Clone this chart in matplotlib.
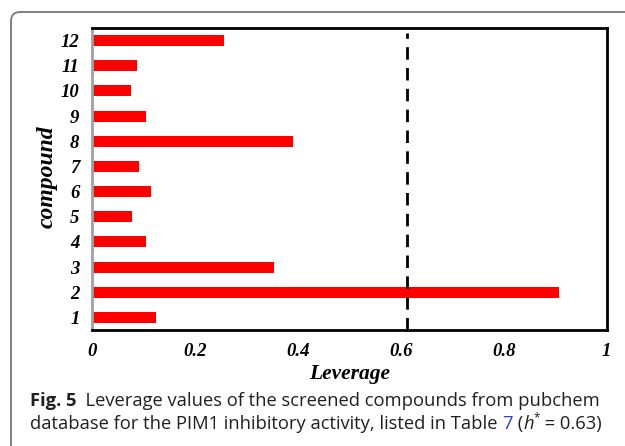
import matplotlib
matplotlib.use("Agg")
import matplotlib.pyplot as plt
from matplotlib.patches import FancyBboxPatch

compounds = ["1", "2", "3", "4", "5", "6", "7", "8", "9", "10", "11", "12"]
leverage = [0.125, 0.908, 0.354, 0.104, 0.077, 0.115, 0.092, 0.390, 0.104, 0.076, 0.088, 0.256]
h_line = 0.612
xticks = [0, 0.2, 0.4, 0.6, 0.8, 1]
xtick_labels = ["0", "0.2", "0.4", "0.6", "0.8", "1"]

W, H = 625, 446
dpi = 100
fig = plt.figure(figsize=(W / dpi, H / dpi), dpi=dpi)

# outer rounded frame
frame = FancyBboxPatch((0.11, -1.0), 8.0, 4.34 + 1.0,
                       boxstyle="round,pad=0,rounding_size=0.09",
                       transform=fig.dpi_scale_trans, fill=False,
                       edgecolor="#808080", linewidth=1.4)
fig.patches.append(frame)

ax = fig.add_axes([92 / W, 1 - 330 / H, (606.5 - 92) / W, (330 - 28) / H])
ypos = list(range(1, len(compounds) + 1))
ax.barh(ypos, leverage, height=0.44, color="#ff0000")
ax.axvline(h_line, color="black", linewidth=2.0, linestyle=(0, (4.5, 3)), ymax=0.985)
ax.set_xlim(0, 1)
ax.set_ylim(0.5, 12.5)

serif = "Liberation Serif"
tick_kw = dict(fontfamily=serif, fontweight="bold", fontstyle="italic", fontsize=13.5)
ax.set_yticks(ypos)
ax.set_yticklabels(compounds, **tick_kw)
ax.set_xticks(xticks)
ax.set_xticklabels(xtick_labels, **tick_kw)
ax.tick_params(axis="x", length=0, pad=9)
ax.tick_params(axis="y", length=0, pad=9)

for s in ["top", "right", "bottom"]:
    ax.spines[s].set_color("black")
    ax.spines[s].set_linewidth(2.0)
ax.spines["left"].set_color("#a0a0a0")
ax.spines["left"].set_linewidth(2.0)

ax.set_xlabel("Leverage", fontfamily=serif, fontweight="bold", fontstyle="italic", fontsize=15.5, labelpad=3)
fig.text(47 / W, 1 - 177 / H, "compound", rotation=90, ha="center", va="center",
         fontfamily=serif, fontweight="bold", fontstyle="italic", fontsize=17)

# caption with mixed styles
cap_font = "Open Sans"
cap_size = 13.2
cap_color = "#231f20"
fig.canvas.draw()
renderer = fig.canvas.get_renderer()


def put(x, y, s, **kw):
    t = fig.text(x / W, 1 - y / H, s, fontfamily=cap_font, fontsize=kw.pop("size", cap_size),
                 color=kw.pop("color", cap_color), va="baseline", ha="left", **kw)
    bb = t.get_window_extent(renderer)
    return x + bb.width


x = put(30, 406, "Fig. 5", fontweight="bold")
put(x, 406, "  Leverage values of the screened compounds from pubchem")
x = put(30, 429, "database for the PIM1 inhibitory activity, listed in Table ")
x = put(x, 429, "7", color="#2a3fdc")
x = put(x, 429, " (")
x = put(x, 429, "h", fontstyle="italic")
x = put(x, 421, "*", size=8.5)
x = put(x, 429, " = 0.63)")

fig.savefig("out.png", dpi=dpi)
